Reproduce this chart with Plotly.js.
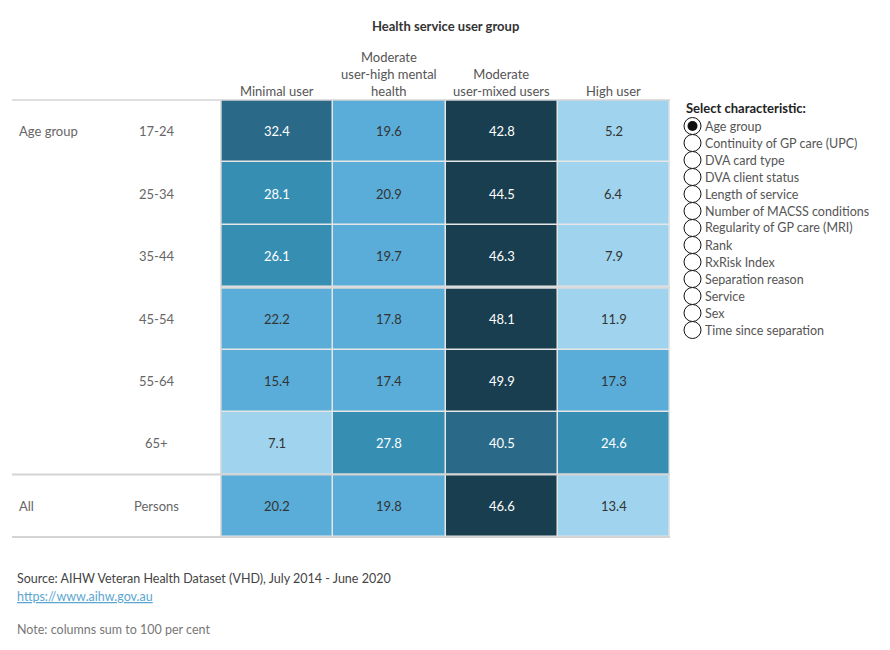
<!DOCTYPE html>
<html>
<head>
<meta charset="utf-8">
<script src="https://cdn.plot.ly/plotly-3.0.1.min.js"></script>
<style>html,body{margin:0;padding:0;background:#fff;}#chart{width:890px;height:650px;}</style>
</head>
<body>
<div id="chart"></div>
<script>
// ---- data ----
var groups = ['Minimal user', 'Moderate user-high mental health', 'Moderate user-mixed users', 'High user'];
var groupHeaders = ['Minimal user', 'Moderate<br>user-high mental<br>health', 'Moderate<br>user-mixed users', 'High user'];
var rowLabels = ['17-24', '25-34', '35-44', '45-54', '55-64', '65+', 'Persons'];
var minimalUser = [32.4, 28.1, 26.1, 22.2, 15.4, 7.1, 20.2];
var moderateHighMH = [19.6, 20.9, 19.7, 17.8, 17.4, 27.8, 19.8];
var moderateMixed = [42.8, 44.5, 46.3, 48.1, 49.9, 40.5, 46.6];
var highUser = [5.2, 6.4, 7.9, 11.9, 17.3, 24.6, 13.4];
var characteristics = ['Age group', 'Continuity of GP care (UPC)', 'DVA card type', 'DVA client status',
  'Length of service', 'Number of MACSS conditions', 'Regularity of GP care (MRI)', 'Rank',
  'RxRisk Index', 'Separation reason', 'Service', 'Sex', 'Time since separation'];

// ---- build ----
var cols = [minimalUser, moderateHighMH, moderateMixed, highUser];
var z = rowLabels.map(function (r, i) { return cols.map(function (c) { return c[i]; }); });
var allVals = [].concat.apply([], cols);
var zmin = Math.min.apply(null, allVals), zmax = Math.max.apply(null, allVals);
var palette = ['#9fd3ee', '#5aadd8', '#368eb3', '#2b6988', '#193e4f'];
var cs = [];
palette.forEach(function (c, i) { cs.push([i / 5, c]); cs.push([(i + 1) / 5, c]); });
function binOf(v) { return Math.min(4, Math.floor((v - zmin) / (zmax - zmin) * 5)); }

var W = 890, H = 650, L = 221, R = 670, T = 100, B = 537;
function px(x) { return (x - L) / (R - L); }
function py(y) { return (B - y) / (B - T); }
var FONT = 'Lato, "Noto Sans", sans-serif';

var annotations = [];
// cell values
rowLabels.forEach(function (r, i) {
  groups.forEach(function (g, j) {
    var v = z[i][j];
    annotations.push({ x: g, y: r, xref: 'x', yref: 'y', text: v.toFixed(1), showarrow: false,
      font: { family: FONT, size: 13, color: binOf(v) >= 2 ? '#ffffff' : '#333333' } });
  });
  annotations.push({ x: px(156), y: r, xref: 'paper', yref: 'y', text: r, showarrow: false,
    xanchor: 'center', font: { family: FONT, size: 13, color: '#666' } });
});
annotations.push({ x: px(17), y: rowLabels[0], xref: 'paper', yref: 'y', text: 'Age group', showarrow: false,
  xanchor: 'left', font: { family: FONT, size: 13, color: '#666' } });
annotations.push({ x: px(17), y: 'Persons', xref: 'paper', yref: 'y', text: 'All', showarrow: false,
  xanchor: 'left', font: { family: FONT, size: 13, color: '#666' } });
// headers
groups.forEach(function (g, j) {
  annotations.push({ x: g, y: py(100.5), xref: 'x', yref: 'paper', text: groupHeaders[j], showarrow: false,
    yanchor: 'bottom', xanchor: 'center', align: 'center',
    font: { family: FONT, size: 13, color: '#555' } });
});
annotations.push({ x: 0.5, y: py(26), xref: 'paper', yref: 'paper', text: '<b>Health service user group</b>',
  showarrow: false, yanchor: 'middle', font: { family: FONT, size: 13, color: '#333' } });
// legend-like radio list
annotations.push({ x: px(684), y: py(108), xref: 'paper', yref: 'paper', text: '<b>Select characteristic:</b>',
  showarrow: false, xanchor: 'left', yanchor: 'middle', font: { family: FONT, size: 13, color: '#222' } });
var shapes = [];
characteristics.forEach(function (c, k) {
  var yy = 126 + k * 17;
  annotations.push({ x: px(703), y: py(yy), xref: 'paper', yref: 'paper', text: c, showarrow: false,
    xanchor: 'left', yanchor: 'middle', font: { family: FONT, size: 12.5, color: '#555' } });
  shapes.push({ type: 'circle', xref: 'paper', yref: 'paper', x0: px(684), x1: px(701), y0: py(yy + 8.5), y1: py(yy - 8.5),
    line: { color: '#111', width: 1 }, fillcolor: '#fff' });
  if (k === 0) {
    shapes.push({ type: 'circle', xref: 'paper', yref: 'paper', x0: px(687.5), x1: px(697.5), y0: py(yy + 5), y1: py(yy - 5),
      line: { width: 0 }, fillcolor: '#111' });
  }
});
// footer
annotations.push({ x: px(15), y: py(578), xref: 'paper', yref: 'paper', xanchor: 'left', yanchor: 'middle', showarrow: false,
  text: 'Source: AIHW Veteran Health Dataset (VHD), July 2014 - June 2020', font: { family: FONT, size: 12.5, color: '#444' } });
annotations.push({ x: px(15), y: py(596), xref: 'paper', yref: 'paper', xanchor: 'left', yanchor: 'middle', showarrow: false,
  text: '<u>https://www.aihw.gov.au</u>', font: { family: FONT, size: 12.5, color: '#5ba6d0' } });
annotations.push({ x: px(15), y: py(629), xref: 'paper', yref: 'paper', xanchor: 'left', yanchor: 'middle', showarrow: false,
  text: 'Note: columns sum to 100 per cent', font: { family: FONT, size: 12.5, color: '#777' } });

// table rules
[[100, 12, 670, 1.5], [474.5, 12, 670, 2], [537, 12, 670, 2]].forEach(function (l) {
  shapes.push({ type: 'line', xref: 'paper', yref: 'paper', x0: px(l[1]), x1: px(l[2]), y0: py(l[0]), y1: py(l[0]),
    line: { color: '#d4d4d4', width: l[3] } });
});
shapes.push({ type: 'line', xref: 'paper', yref: 'paper', x0: 0, x1: 1, y0: py(287.5), y1: py(287.5),
  line: { color: '#dadada', width: 2.5 } });
shapes.push({ type: 'line', xref: 'paper', yref: 'paper', x0: px(221), x1: px(221), y0: 0, y1: 1,
  line: { color: '#d4d4d4', width: 1.5 } });

var trace = {
  type: 'heatmap', x: groups, y: rowLabels, z: z, zmin: zmin, zmax: zmax,
  colorscale: cs, showscale: false, xgap: 1.5, ygap: 1.5, hoverinfo: 'skip'
};

var layout = {
  width: W, height: H,
  margin: { l: L, r: W - R, t: T, b: H - B, pad: 0 },
  paper_bgcolor: '#fff', plot_bgcolor: '#e6e6e6',
  xaxis: { showticklabels: false, showgrid: false, zeroline: false, ticks: '', fixedrange: true },
  yaxis: { showticklabels: false, showgrid: false, zeroline: false, ticks: '', autorange: 'reversed', fixedrange: true },
  annotations: annotations, shapes: shapes, showlegend: false,
  font: { family: FONT }
};

Plotly.newPlot('chart', [trace], layout, { displayModeBar: false, staticPlot: true });
</script>
</body>
</html>
